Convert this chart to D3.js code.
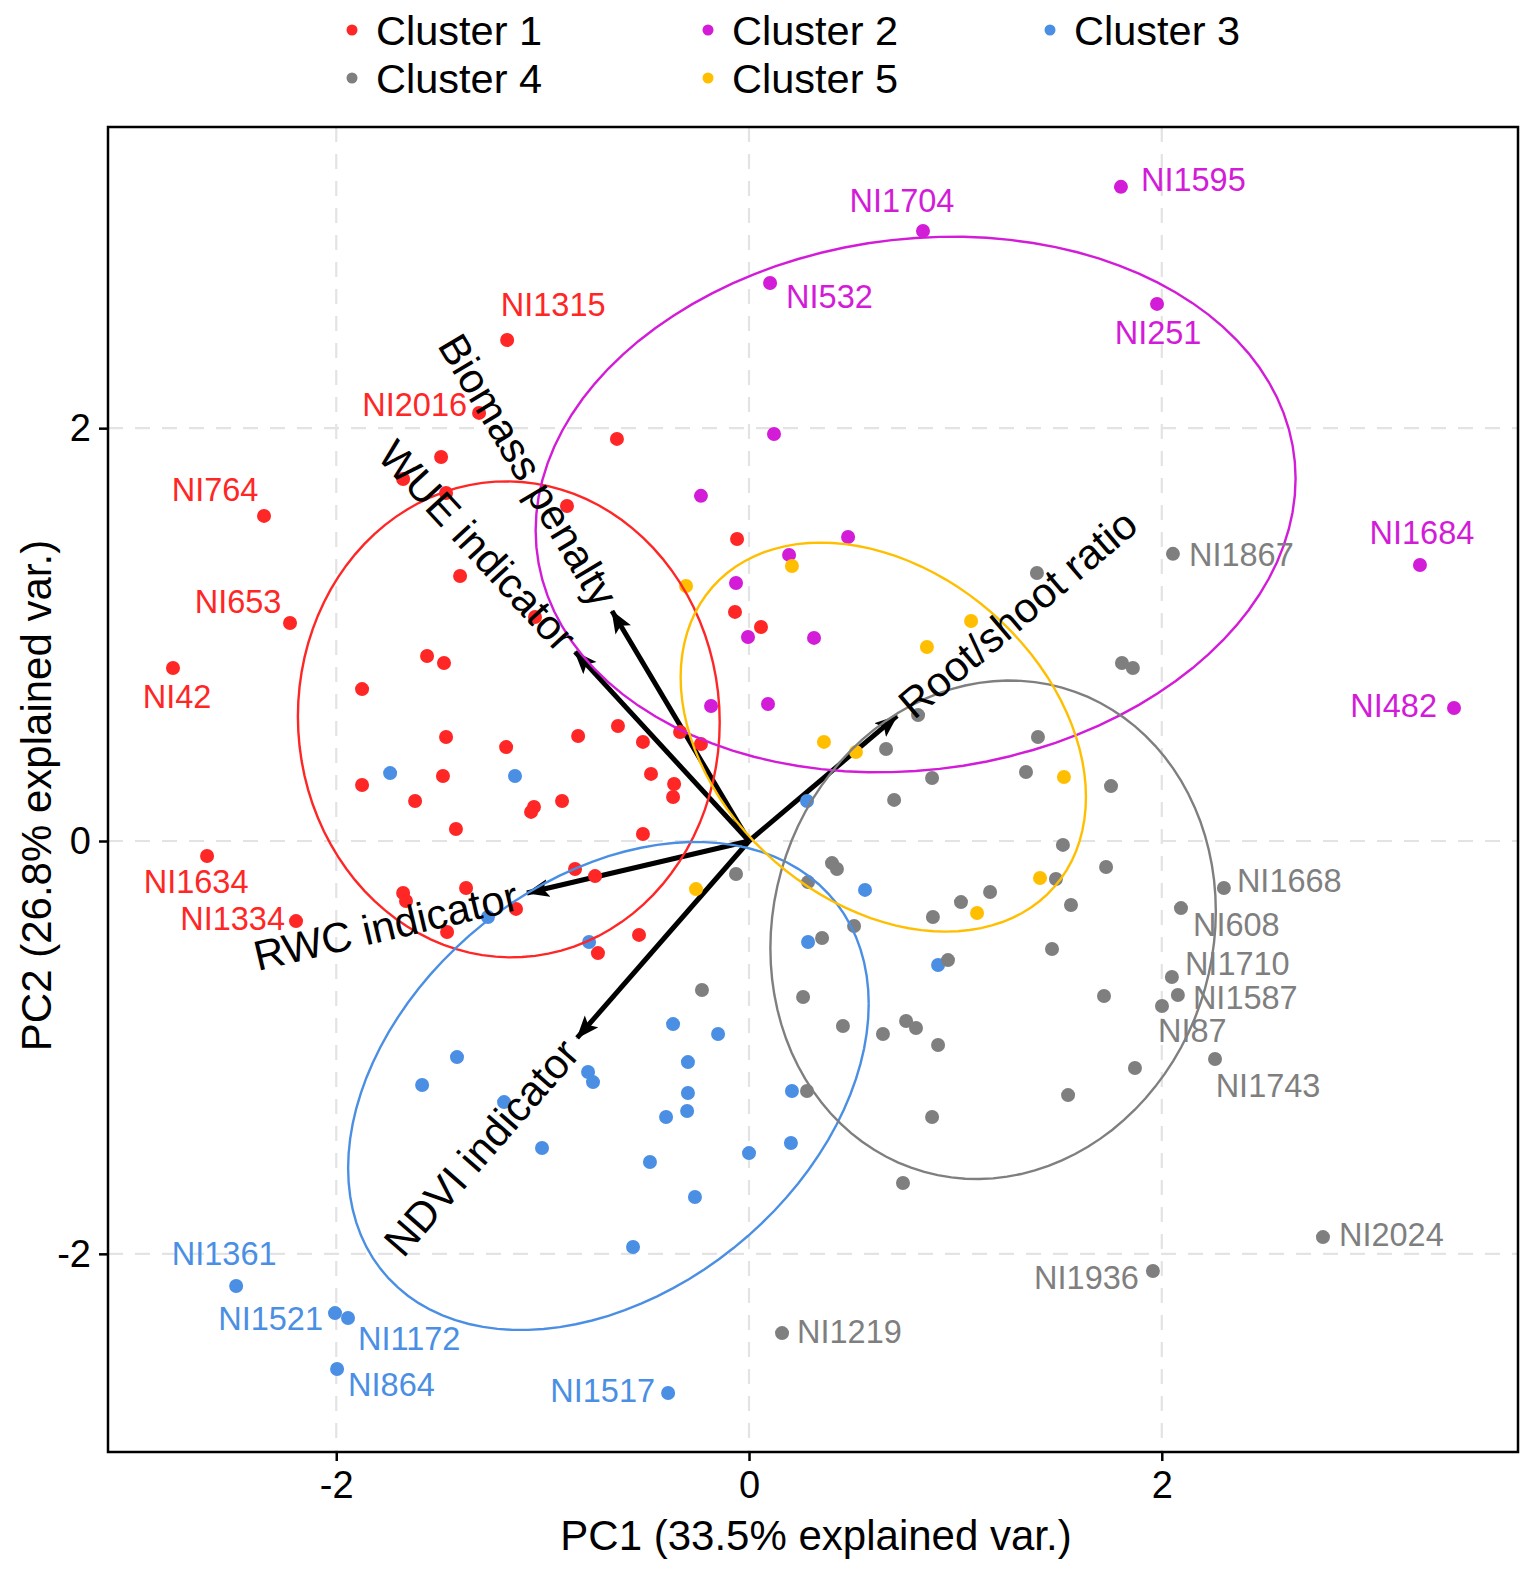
<!DOCTYPE html>
<html>
<head>
<meta charset="utf-8">
<script src="https://cdn.jsdelivr.net/npm/d3@7"></script>
<style>
  body { margin: 0; background: #fff; }
  text { font-family: "Liberation Sans", Arial, sans-serif; }
</style>
</head>
<body>
<svg id="chart"></svg>
<script>
// ---- data (PC1, PC2, optional label) ----
const clusterNames = ["Cluster 1", "Cluster 2", "Cluster 3", "Cluster 4", "Cluster 5"];
const clusterColors = ["#FF2626", "#D21CD8", "#4A8FE4", "#7F7F7F", "#FFBF00"];

const cluster1 = [
  [-1.172, 2.427, "NI1315"], [-1.308, 2.074, "NI2016"], [-1.492, 1.860], [-1.676, 1.754],
  [-0.882, 1.623], [-0.640, 1.948], [-2.350, 1.575, "NI764"], [-1.400, 1.284],
  [-2.224, 1.056, "NI653"], [-2.791, 0.838, "NI42"], [-1.037, 1.085], [-1.560, 0.896],
  [-1.478, 0.862], [-1.875, 0.736], [-1.468, 0.504], [-1.177, 0.455], [-0.828, 0.509],
  [-1.483, 0.315], [-1.875, 0.271], [-1.618, 0.194], [-1.042, 0.165], [-1.056, 0.141],
  [-0.906, 0.194], [-1.420, 0.058], [-2.626, -0.073, "NI1634"], [-2.195, -0.388, "NI1334"],
  [-1.676, -0.252], [-1.662, -0.291], [-1.371, -0.228], [-1.129, -0.329], [-1.463, -0.441],
  [-0.843, -0.136], [-0.746, -0.170], [-0.533, -0.455], [-0.732, -0.543], [-0.068, 1.110],
  [0.058, 1.037], [-0.058, 1.463], [-0.635, 0.557], [-0.514, 0.480], [-0.334, 0.528],
  [-0.233, 0.470], [-0.475, 0.325], [-0.363, 0.276], [-0.368, 0.213], [-0.514, 0.034],
  [-1.468, 1.686]
];

const cluster2 = [
  [1.802, 3.169, "NI1595"], [0.843, 2.955, "NI1704"], [0.102, 2.703, "NI532"],
  [1.977, 2.602, "NI251"], [0.121, 1.972], [-0.233, 1.672], [0.480, 1.473], [0.194, 1.386],
  [-0.063, 1.250], [-0.005, 0.988], [0.315, 0.984], [-0.184, 0.654], [0.092, 0.664],
  [3.251, 1.337, "NI1684"], [3.416, 0.644, "NI482"]
];

const cluster3 = [
  [-1.739, 0.329], [-1.134, 0.315], [-1.265, -0.368], [-0.775, -0.489], [0.281, 0.194],
  [0.562, -0.237], [0.286, -0.489], [0.916, -0.601], [-1.415, -1.047], [-1.584, -1.182],
  [-1.187, -1.265], [-1.003, -1.487], [-0.368, -0.887], [-0.150, -0.935], [-0.296, -1.071],
  [-0.780, -1.119], [-0.756, -1.168], [-0.296, -1.221], [-0.300, -1.308], [-0.402, -1.337],
  [-0.480, -1.555], [0.000, -1.512], [0.203, -1.463], [-0.262, -1.725], [-0.562, -1.967],
  [0.208, -1.211], [-2.485, -2.156, "NI1361"], [-2.006, -2.287, "NI1521"],
  [-1.943, -2.311, "NI1172"], [-1.996, -2.558, "NI864"], [-0.392, -2.674, "NI1517"]
];

const cluster4 = [
  [2.054, 1.391, "NI1867"], [1.395, 1.298], [1.807, 0.862], [1.860, 0.838], [0.819, 0.610],
  [1.400, 0.504], [0.664, 0.446], [0.887, 0.305], [1.342, 0.334], [0.703, 0.199],
  [1.754, 0.266], [1.521, -0.019], [1.730, -0.126], [1.487, -0.184], [1.560, -0.310],
  [0.402, -0.107], [0.426, -0.136], [0.286, -0.199], [-0.063, -0.160], [1.168, -0.247],
  [1.027, -0.296], [0.891, -0.368], [0.509, -0.412], [0.354, -0.470], [0.964, -0.577],
  [1.468, -0.523], [-0.228, -0.722], [0.262, -0.756], [1.720, -0.751],
  [2.301, -0.228, "NI1668"], [2.093, -0.325, "NI608"], [2.049, -0.659, "NI1710"],
  [2.078, -0.746, "NI1587"], [2.001, -0.799, "NI87"], [2.258, -1.056, "NI1743"],
  [1.870, -1.100], [1.546, -1.231], [0.455, -0.896], [0.649, -0.935], [0.761, -0.872],
  [0.809, -0.906], [0.916, -0.988], [0.281, -1.211], [0.887, -1.337], [0.746, -1.657],
  [0.160, -2.384, "NI1219"], [2.781, -1.919, "NI2024"], [1.957, -2.083, "NI1936"]
];

const cluster5 = [
  [-0.305, 1.235], [0.208, 1.332], [1.076, 1.066], [0.862, 0.940], [0.363, 0.480],
  [0.518, 0.431], [1.526, 0.310], [1.410, -0.179], [1.105, -0.349], [-0.257, -0.233]
];

const varNames = ["Biomass penalty", "WUE indicator", "Root/shoot ratio", "RWC indicator", "NDVI indicator"];
const varX = [-0.664, -0.843, 0.717, -1.076, -0.833];
const varY = [1.114, 0.916, 0.606, -0.252, -0.954];

const tickValues = [-2, 0, 2];
const xTitle = "PC1 (33.5% explained var.)";
const yTitle = "PC2 (26.8% explained var.)";

// label nudges in px: [dx, dy, anchor]
const labelNudge = {
  NI1315: [46, -35, "middle"], NI2016: [-12, -8, "end"], NI764: [-49, -26, "middle"],
  NI653: [-52, -21, "middle"], NI42: [4, 29, "middle"], NI1634: [-11, 26, "middle"],
  NI1334: [-11, -2, "end"], NI1704: [-21, -30, "middle"], NI1595: [20, -7, "start"],
  NI532: [16, 14, "start"], NI251: [1, 29, "middle"], NI1684: [2, -32, "middle"],
  NI482: [-17, -2, "end"], NI1867: [16, 1, "start"], NI1668: [13, -7, "start"],
  NI608: [12, 17, "start"], NI1710: [13, -13, "start"], NI1587: [15, 3, "start"],
  NI87: [-4, 25, "start"], NI1743: [53, 27, "middle"], NI2024: [16, -2, "start"],
  NI1936: [-14, 7, "end"], NI1219: [15, -1, "start"], NI1361: [-12, -32, "middle"],
  NI1521: [-12, 6, "end"], NI1172: [10, 21, "start"], NI864: [11, 16, "start"],
  NI1517: [-13, -2, "end"]
};

// ---- layout ----
const width = 1535;
const height = 1569;
const panel = { left: 108, right: 1518, top: 127, bottom: 1452 };

const svg = d3.select("#chart").attr("width", width).attr("height", height);

const x = d3.scaleLinear().domain([-3.106, 3.726]).range([panel.left, panel.right]);
const y = d3.scaleLinear().domain([-2.960, 3.459]).range([panel.bottom, panel.top]);

const groups = [cluster1, cluster2, cluster3, cluster4, cluster5].map((pts, i) => ({
  name: clusterNames[i], color: clusterColors[i], pts
}));

// clip for the panel
svg.append("clipPath").attr("id", "clip")
  .append("rect")
  .attr("x", panel.left).attr("y", panel.top)
  .attr("width", panel.right - panel.left).attr("height", panel.bottom - panel.top);

// grid
const grid = svg.append("g").attr("stroke", "#e3e3e3").attr("stroke-width", 2.2)
  .attr("stroke-dasharray", "15,12");
grid.selectAll(".gx").data(tickValues).join("line")
  .attr("x1", d => x(d)).attr("x2", d => x(d))
  .attr("y1", panel.top).attr("y2", panel.bottom);
grid.selectAll(".gy").data(tickValues).join("line")
  .attr("y1", d => y(d)).attr("y2", d => y(d))
  .attr("x1", panel.left).attr("x2", panel.right);

const plot = svg.append("g").attr("clip-path", "url(#clip)");

// arrows
svg.append("defs").append("marker")
  .attr("id", "head")
  .attr("markerUnits", "userSpaceOnUse")
  .attr("markerWidth", 26).attr("markerHeight", 20)
  .attr("refX", 22).attr("refY", 9)
  .attr("orient", "auto")
  .append("path")
  .attr("d", "M0,0 L23,9 L0,18 L5,9 Z")
  .attr("fill", "#000");

plot.append("g").selectAll("line")
  .data(varNames)
  .join("line")
  .attr("x1", x(0)).attr("y1", y(0))
  .attr("x2", (d, i) => x(varX[i])).attr("y2", (d, i) => y(varY[i]))
  .attr("stroke", "#000").attr("stroke-width", 5)
  .attr("marker-end", "url(#head)");

// points
groups.forEach(g => {
  plot.append("g").selectAll("circle")
    .data(g.pts)
    .join("circle")
    .attr("cx", d => x(d[0])).attr("cy", d => y(d[1]))
    .attr("r", 7)
    .attr("fill", g.color);
});

// normal-probability ellipses (68%), as ggbiplot
const ed = Math.sqrt(-2 * Math.log(1 - 0.68));
const theta = d3.range(0, 101).map(i => (i / 100) * 2 * Math.PI);
groups.forEach(g => {
  const mx = d3.mean(g.pts, d => d[0]);
  const my = d3.mean(g.pts, d => d[1]);
  const n = g.pts.length;
  const sxx = d3.sum(g.pts, d => (d[0] - mx) ** 2) / (n - 1);
  const syy = d3.sum(g.pts, d => (d[1] - my) ** 2) / (n - 1);
  const sxy = d3.sum(g.pts, d => (d[0] - mx) * (d[1] - my)) / (n - 1);
  const r11 = Math.sqrt(sxx);
  const r12 = sxy / r11;
  const r22 = Math.sqrt(syy - r12 * r12);
  const ring = theta.map(t => [
    mx + ed * Math.cos(t) * r11,
    my + ed * (Math.cos(t) * r12 + Math.sin(t) * r22)
  ]);
  plot.append("path")
    .datum(ring)
    .attr("d", d3.line().x(d => x(d[0])).y(d => y(d[1])))
    .attr("fill", "none")
    .attr("stroke", g.color)
    .attr("stroke-width", 2.4);
});

// variable labels
plot.append("g").selectAll("text")
  .data(varNames)
  .join("text")
  .attr("transform", (d, i) => {
    const px = x(varX[i]), py = y(varY[i]);
    const dx = px - x(0), dy = py - y(0);
    const len = Math.hypot(dx, dy);
    const gap = 10;
    const tx = px + dx / len * gap, ty = py + dy / len * gap;
    const ang = -Math.atan(varY[i] / varX[i]) * 180 / Math.PI;
    return `translate(${tx},${ty}) rotate(${ang})`;
  })
  .attr("text-anchor", (d, i) => varX[i] < 0 ? "end" : "start")
  .attr("dominant-baseline", "central")
  .attr("font-size", 42)
  .attr("fill", "#000")
  .text(d => d);

// point labels
groups.forEach(g => {
  plot.append("g").selectAll("text")
    .data(g.pts.filter(d => d[2]))
    .join("text")
    .attr("x", d => x(d[0]) + labelNudge[d[2]][0])
    .attr("y", d => y(d[1]) + labelNudge[d[2]][1])
    .attr("text-anchor", d => labelNudge[d[2]][2])
    .attr("dominant-baseline", "central")
    .attr("font-size", 32.5)
    .attr("fill", g.color)
    .text(d => d[2]);
});

// panel border
svg.append("rect")
  .attr("x", panel.left).attr("y", panel.top)
  .attr("width", panel.right - panel.left).attr("height", panel.bottom - panel.top)
  .attr("fill", "none").attr("stroke", "#000").attr("stroke-width", 2.5);

// axes
const xAxis = svg.append("g")
  .attr("transform", `translate(0,${panel.bottom})`)
  .call(d3.axisBottom(x).tickValues(tickValues).tickSize(9).tickPadding(10).tickFormat(d => String(d)));
const yAxis = svg.append("g")
  .attr("transform", `translate(${panel.left},0)`)
  .call(d3.axisLeft(y).tickValues(tickValues).tickSize(9).tickPadding(8).tickFormat(d => String(d)));
[xAxis, yAxis].forEach(a => {
  a.select(".domain").remove();
  a.selectAll(".tick line").attr("stroke", "#000").attr("stroke-width", 2.5);
  a.selectAll(".tick text").attr("font-size", 38).attr("fill", "#000")
    .attr("font-family", "'Liberation Sans', Arial, sans-serif");
});

// axis titles
svg.append("text")
  .attr("x", (panel.left + panel.right) / 2 + 3).attr("y", 1535)
  .attr("text-anchor", "middle").attr("dominant-baseline", "central")
  .attr("font-size", 42).attr("fill", "#000")
  .text(xTitle);
svg.append("text")
  .attr("transform", `translate(36,${(panel.top + panel.bottom) / 2 + 6}) rotate(-90)`)
  .attr("text-anchor", "middle").attr("dominant-baseline", "central")
  .attr("font-size", 42).attr("fill", "#000")
  .text(yTitle);

// legend
const legendX = [352, 708, 1050];
const legendY = [30, 78];
const legend = svg.append("g").selectAll("g")
  .data(groups)
  .join("g")
  .attr("transform", (d, i) => `translate(${legendX[i % 3]},${legendY[Math.floor(i / 3)]})`);
legend.append("circle").attr("r", 5.5).attr("fill", d => d.color);
legend.append("text")
  .attr("x", 24)
  .attr("dominant-baseline", "central")
  .attr("font-size", 41.5).attr("fill", "#000")
  .text(d => d.name);
</script>
</body>
</html>
